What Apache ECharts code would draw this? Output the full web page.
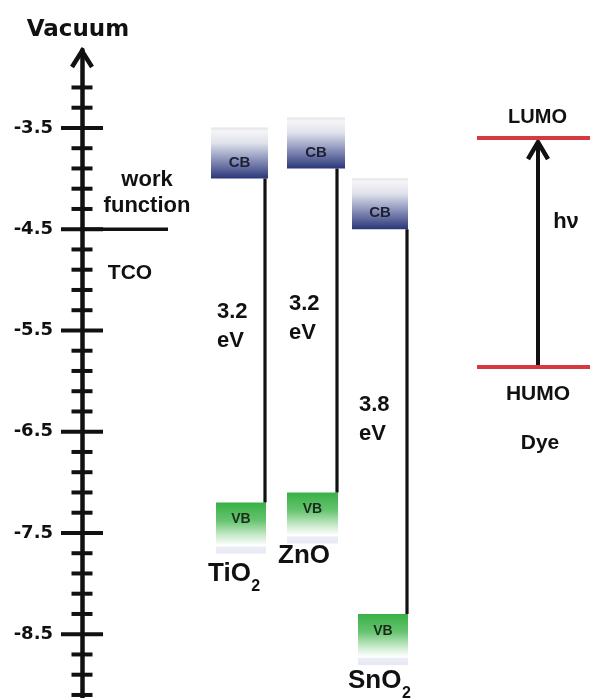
<!DOCTYPE html>
<html>
<head>
<meta charset="utf-8">
<script src="https://cdn.jsdelivr.net/npm/echarts@6/dist/echarts.min.js"></script>
<style>
html,body{margin:0;padding:0;background:#ffffff;}
#chart{width:590px;height:698px;}
</style>
</head>
<body>
<div id="chart"></div>
<script>
// ---------------- DATA (energies in eV, relative to vacuum) ----------------
const materials = ['TiO2', 'ZnO', 'SnO2'];
const nameBase = ['TiO', 'ZnO', 'SnO'];
const nameSub = ['2', '', '2'];
const cbLevels = [-4.0, -3.9, -4.5];
const vbLevels = [-7.2, -7.1, -8.3];
const tcoWorkFunction = [-4.5];
const dyeLUMO = [-3.6];
const dyeHOMO = [-5.86];
const majorTicks = [-3.5, -4.5, -5.5, -6.5, -7.5, -8.5];
const minorTicks = [-3.1, -3.3, -3.7, -3.9, -4.1, -4.3, -4.7, -4.9, -5.1, -5.3,
                    -5.7, -5.9, -6.1, -6.3, -6.7, -6.9, -7.1, -7.3, -7.7, -7.9,
                    -8.1, -8.3, -8.7, -8.9, -9.1];
const axisMin = -9.13;
const axisMax = -2.73;

// ---------------- LAYOUT (horizontal pixel positions, styles) ----------------
const AXIS_X = 82;
const colLayout = [
  {line: 265, cbL: 211, cbR: 268, vbL: 216, vbR: 266, nameX: 208, nameDy: 80, gapDy: -14},
  {line: 337, cbL: 287, cbR: 345, vbL: 287, vbR: 338, nameX: 278, nameDy: 72.5, gapDy: -12},
  {line: 407, cbL: 352, cbR: 408, vbL: 358, vbR: 408, nameX: 348, nameDy: 76, gapDy: -2}
];
const BOX_H = 51;
const INK = '#111111';
const RED = '#d8383f';
const ARIAL = 'Liberation Sans';

function txt(text, size, extra) {
  return Object.assign({
    text: text, fontFamily: ARIAL, fontWeight: 'bold', fontSize: size,
    fill: INK, align: 'center', verticalAlign: 'middle'
  }, extra || {});
}

const measureCtx = document.createElement('canvas').getContext('2d');
function textWidth(t, size) {
  measureCtx.font = 'bold ' + size + 'px "' + ARIAL + '"';
  return measureCtx.measureText(t).width;
}

function cbGradient() {
  return new echarts.graphic.LinearGradient(0, 0, 0, 1, [
    {offset: 0, color: '#e4e4e8'},
    {offset: 0.07, color: '#f5f5f7'},
    {offset: 0.3, color: '#e0e2ec'},
    {offset: 0.62, color: '#8d95bb'},
    {offset: 1, color: '#2a3679'}
  ]);
}
function vbGradient() {
  return new echarts.graphic.LinearGradient(0, 0, 0, 1, [
    {offset: 0, color: '#38b045'},
    {offset: 0.35, color: '#66c46f'},
    {offset: 0.62, color: '#c2e7c5'},
    {offset: 0.8, color: '#f5fbf5'},
    {offset: 0.85, color: '#ffffff'},
    {offset: 0.87, color: '#eceef7'},
    {offset: 1, color: '#e6e8f4'}
  ]);
}

function renderBand(params, api) {
  const i = params.dataIndex;
  const cb = api.value(1), vb = api.value(2);
  const L = colLayout[i];
  const yCb = api.coord([AXIS_X, cb])[1];
  const yVb = api.coord([AXIS_X, vb])[1];
  const children = [];
  children.push({type: 'rect', shape: {x: L.cbL, y: yCb - BOX_H, width: L.cbR - L.cbL, height: BOX_H},
    style: {fill: cbGradient()}});
  children.push({type: 'text', x: (L.cbL + L.cbR) / 2, y: yCb - 16, style: txt('CB', 15, {fill: '#1c2030'})});
  children.push({type: 'rect', shape: {x: L.vbL, y: yVb, width: L.vbR - L.vbL, height: BOX_H},
    style: {fill: vbGradient()}});
  children.push({type: 'text', x: (L.vbL + L.vbR) / 2, y: yVb + 17, style: txt('VB', 14, {fill: '#1c2a1c'})});
  children.push({type: 'line', shape: {x1: L.line, y1: yCb, x2: L.line, y2: yVb},
    style: {stroke: INK, lineWidth: 3.2}});
  const gap = (cb - vb).toFixed(1);
  children.push({type: 'text', x: L.line - 48, y: (yCb + yVb) / 2 + L.gapDy,
    style: txt(gap + '\neV', 22, {lineHeight: 29, align: 'left'})});
  const baseY = yVb + L.nameDy;
  const bw = textWidth(nameBase[i], 26);
  children.push({type: 'text', x: L.nameX, y: baseY - 9, style: txt(nameBase[i], 26, {align: 'left'})});
  if (nameSub[i]) {
    children.push({type: 'text', x: L.nameX + bw + 0.5, y: baseY + 4, style: txt(nameSub[i], 16, {align: 'left'})});
  }
  return {type: 'group', children: children};
}

function renderTicks(len) {
  return function (params, api) {
    const y = api.coord([AXIS_X, api.value(1)])[1];
    return {type: 'line', shape: {x1: AXIS_X - len, y1: y, x2: AXIS_X + len, y2: y},
      style: {stroke: INK, lineWidth: 4}};
  };
}

function renderAxisArrow(params, api) {
  const y = api.coord([AXIS_X, api.value(1)])[1];
  return {type: 'polyline', shape: {points: [[AXIS_X - 10, y + 17], [AXIS_X, y + 1], [AXIS_X + 10, y + 17]]},
    style: {stroke: INK, lineWidth: 4.5, fill: null, lineJoin: 'miter', lineCap: 'butt'}};
}

function renderTCO(params, api) {
  const y = api.coord([AXIS_X, api.value(1)])[1];
  return {type: 'group', children: [
    {type: 'line', shape: {x1: AXIS_X, y1: y, x2: 168, y2: y}, style: {stroke: INK, lineWidth: 3.5}},
    {type: 'text', x: 147, y: y - 36.5, style: txt('work\nfunction', 22, {lineHeight: 26})},
    {type: 'text', x: 130, y: y + 43.5, style: txt('TCO', 21)}
  ]};
}

function renderDye(params, api) {
  const yL = api.coord([AXIS_X, api.value(1)])[1];
  const yH = api.coord([AXIS_X, api.value(2)])[1];
  const ax = 538;
  const tip = yL + 3;
  return {type: 'group', children: [
    {type: 'line', shape: {x1: ax, y1: yH, x2: ax, y2: tip + 2}, style: {stroke: INK, lineWidth: 4}},
    {type: 'polyline', shape: {points: [[ax - 10, tip + 18], [ax, tip + 1], [ax + 10, tip + 18]]},
      style: {stroke: INK, lineWidth: 4.5, fill: null, lineJoin: 'miter'}},
    {type: 'line', shape: {x1: 477, y1: yL, x2: 590, y2: yL}, style: {stroke: RED, lineWidth: 4}},
    {type: 'line', shape: {x1: 477, y1: yH, x2: 590, y2: yH}, style: {stroke: RED, lineWidth: 4}},
    {type: 'text', x: 537.5, y: yL - 20.5, style: txt('LUMO', 20)},
    {type: 'text', x: 566, y: yL + 84, style: txt('h\u03bd', 22)},
    {type: 'text', x: 538, y: yH + 27, style: txt('HUMO', 21)},
    {type: 'text', x: 540, y: yH + 76, style: txt('Dye', 21)}
  ]};
}

const chart = echarts.init(document.getElementById('chart'), null, {renderer: 'canvas'});
chart.setOption({
  animation: false,
  backgroundColor: '#ffffff',
  textStyle: {fontFamily: ARIAL},
  title: {
    text: 'Vacuum', left: 78, top: 19, textAlign: 'center', padding: 0,
    textStyle: {fontFamily: 'DejaVu Sans', fontWeight: 'bold', fontSize: 23, color: INK}
  },
  grid: {left: AXIS_X, right: 0, top: 50, bottom: 0, containLabel: false, outerBoundsMode: 'none'},
  xAxis: {type: 'value', min: AXIS_X, max: 590, show: false},
  yAxis: {
    type: 'value', min: axisMin, max: axisMax,
    axisLine: {show: true, onZero: false, lineStyle: {color: INK, width: 4.5}},
    axisTick: {show: false},
    splitLine: {show: false},
    axisLabel: {
      customValues: majorTicks,
      formatter: (v) => Number(v).toFixed(1),
      margin: 29,
      fontFamily: 'DejaVu Sans', fontWeight: 'bold', fontSize: 18, color: INK
    }
  },
  series: [
    {type: 'custom', name: 'minor ticks', renderItem: renderTicks(10.5), data: minorTicks.map(v => [AXIS_X, v]), silent: true},
    {type: 'custom', name: 'major ticks', renderItem: renderTicks(21), data: majorTicks.map(v => [AXIS_X, v]), silent: true},
    {type: 'custom', name: 'axis arrow', renderItem: renderAxisArrow, data: [[AXIS_X, axisMax]], silent: true},
    {type: 'custom', name: 'TCO', renderItem: renderTCO, data: tcoWorkFunction.map(v => [AXIS_X, v]), silent: true},
    {type: 'custom', name: 'bands', renderItem: renderBand,
      data: materials.map((m, i) => [i, cbLevels[i], vbLevels[i]]), silent: true},
    {type: 'custom', name: 'dye', renderItem: renderDye,
      data: dyeLUMO.map((v, i) => [AXIS_X, v, dyeHOMO[i]]), silent: true}
  ]
});
</script>
</body>
</html>
